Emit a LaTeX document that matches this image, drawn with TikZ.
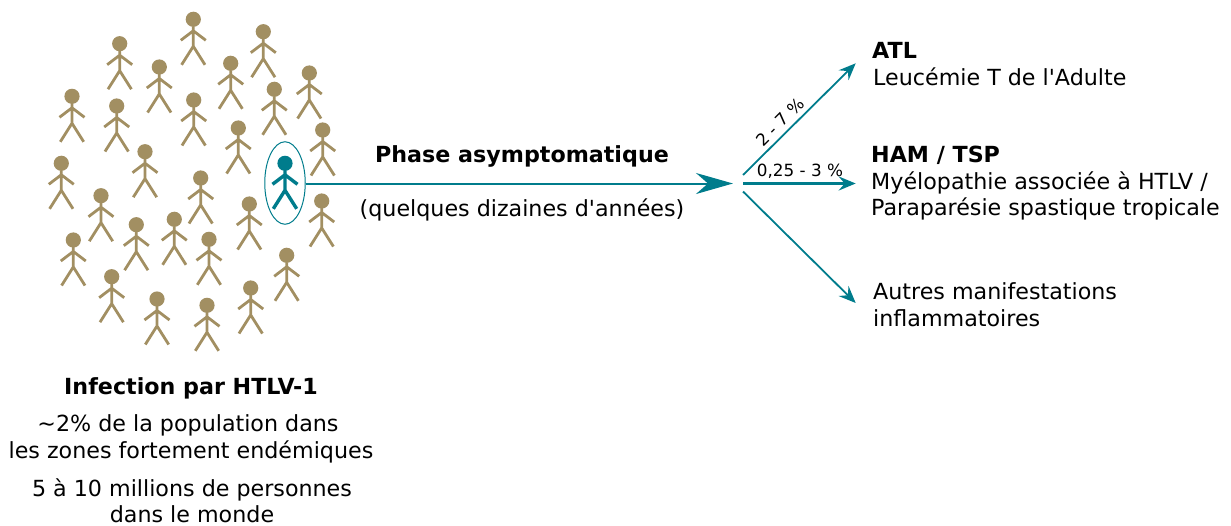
\documentclass[tikz,border=0pt]{standalone}
\usepackage{fontspec}
\setmainfont{DejaVu Sans}[Ligatures=TeXOff]
\usetikzlibrary{arrows.meta,shapes.geometric}
\definecolor{teal1}{HTML}{007C8C}
\definecolor{tan1}{HTML}{A28F62}
\tikzset{
  x=1pt,y=-1pt,
  person/.pic={
    \fill[pic actions,draw=none] (0,0) circle (7.6);
    \draw[pic actions,fill=none,line cap=butt,line join=miter] (0,7) -- (0,27) (-12.5,21) -- (0,11.5) -- (12.5,21) (-11.7,45.5) -- (0,27) -- (11.7,45.5);
  },
  lbl/.style={anchor=base west,inner sep=0pt,font=\fontsize{22.2}{27}\selectfont},
  lblc/.style={anchor=base,inner sep=0pt,font=\fontsize{22.2}{27}\selectfont},
  lblb/.style={font=\fontsize{22.2}{27}\selectfont\bfseries},
  bigarrow/.style={draw=teal1,line width=2pt,-{Stealth[length=37pt,width=21pt,inset=12pt,fill=teal1]}},
  smallarrow/.style={draw=teal1,line width=1.8pt,-{Stealth[length=17pt,width=14pt,inset=6pt,fill=teal1]}},
  pct/.style={inner sep=0pt,font=\fontsize{16.8}{20}\selectfont},
}
\begin{document}
\begin{tikzpicture}
\useasboundingbox (0,0) rectangle (1231,525);
\foreach \px/\py in {193.3/19.3,263.3/31.7,119.7/43.7,159.3/67,230.7/63.3,309.3/73,274.3/89.3,72/96.3,116.7/106,193.7/100,238.3/128,322.7/130,145/151.7,61.3/163.3,200.7/178,101/195.7,249.3/204,321.7/201,136.3/224.7,174.3/219.3,209/239.3,73.3/240,286.7/255.3,111.7/276.7,250.7/288,157/299,207/305.3}
  \pic[draw=tan1,fill=tan1,line width=2.8pt] at (\px,\py) {person};
\pic[draw=teal1,fill=teal1,line width=3.4pt] at (285,163.3) {person};
\node[draw=teal1,line width=1pt,ellipse,minimum width=40.5pt,minimum height=82.5pt,inner sep=0pt] (sel) at (285,183) {};
\coordinate (hub) at (733,183.5);
\coordinate (o1) at (743,175);
\coordinate (o2) at (743,183.5);
\coordinate (o3) at (743,191.5);
\coordinate (e1) at (855.7,63.3);
\coordinate (e2) at (855.7,183.5);
\coordinate (e3) at (855.7,303);
\draw[bigarrow] (sel.east |- hub) -- (hub);
\draw[smallarrow] (o1) -- (e1);
\draw[smallarrow,line width=2.8pt] (o2) -- (e2);
\draw[smallarrow] (o3) -- (e3);
\node[pct,rotate=45] (p1) at (780,122) {2 - 7 \%};
\node[pct] (p2) at (800,171.5) {0,25 - 3 \%};
\node[lblc,lblb] (phase) at (522,162.5) {Phase asymptomatique};
\node[lblc] (dur) at (522,216) {(quelques dizaines d'années)};
\node[lbl,lblb] (atl) at (872,58) {ATL};
\node[lbl] (atl2) at (873,85) {Leucémie T de l'Adulte};
\node[lbl,lblb] (ham) at (871,162) {HAM / TSP};
\node[lbl] (ham2) at (871,189.5) {Myélopathie associée à HTLV /};
\node[lbl] (ham3) at (871,215.5) {Paraparésie spastique tropicale};
\node[lbl] (au1) at (873,299) {Autres manifestations};
\node[lbl] (au2) at (873,326) {inflammatoires};
\node[lblc,lblb] (inf) at (191,394) {Infection par HTLV-1};
\node[lblc] (a1) at (188,431) {\textasciitilde2\% de la population dans};
\node[lblc] (a2) at (191,458) {les zones fortement endémiques};
\node[lblc] (a3) at (192,496) {5 à 10 millions de personnes};
\node[lblc] (a4) at (192,522) {dans le monde};
\end{tikzpicture}
\end{document}
